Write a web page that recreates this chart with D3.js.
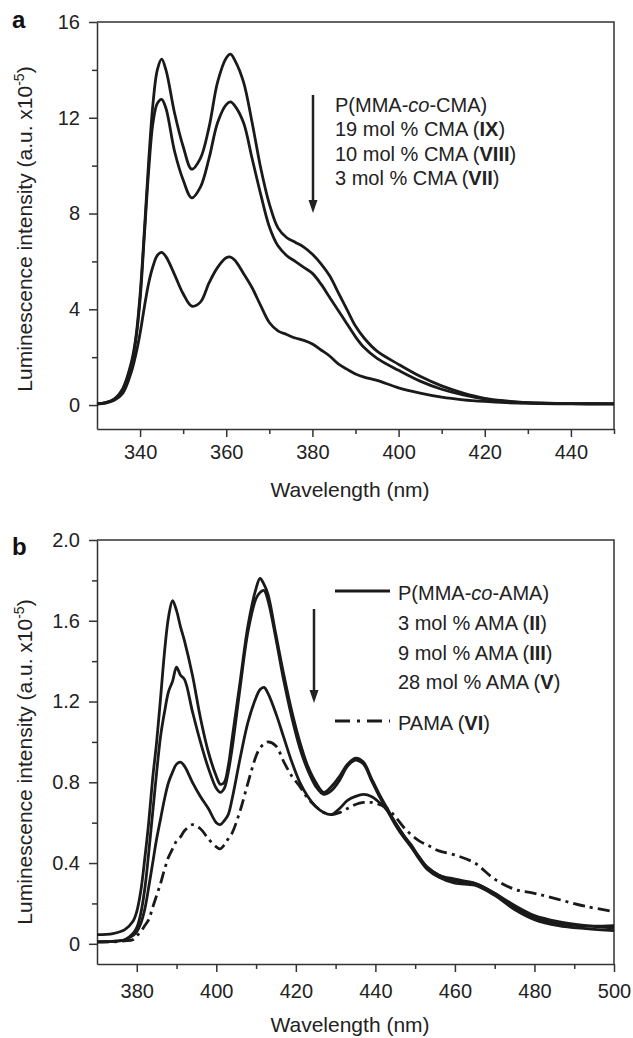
<!DOCTYPE html>
<html>
<head>
<meta charset="utf-8">
<script src="https://cdn.jsdelivr.net/npm/d3@7"></script>
<style>
  body { margin: 0; background: #fff; }
  svg { font-family: "Liberation Sans", Arial, sans-serif; }
  .axis path, .axis line { stroke: #333; stroke-width: 1.5; }
  .axis text { fill: #222; font-size: 20px; }
</style>
</head>
<body>
<div id="chart"></div>
<script>
// panel a - P(MMA-co-CMA)
var wlA = [330, 332, 334, 336, 338, 339, 340, 341, 342, 343, 344, 345, 346, 348, 350, 352, 354, 356, 358, 360, 361, 362, 364, 366, 368, 370, 372, 374, 376, 378, 380, 382, 384, 386, 388, 390, 392, 395, 400, 405, 410, 415, 420, 425, 430, 440, 450];
var cmaIX = [0.05, 0.1, 0.25, 0.7, 1.8, 2.8, 4.6, 7.3, 10.2, 12.6, 14.0, 14.45, 14.0, 12.2, 10.8, 9.85, 10.3, 11.6, 13.5, 14.5, 14.66, 14.4, 13.5, 11.8, 9.9, 8.4, 7.4, 7.0, 6.8, 6.6, 6.3, 5.9, 5.4, 4.7, 4.0, 3.3, 2.8, 2.25, 1.7, 1.2, 0.8, 0.5, 0.28, 0.17, 0.1, 0.06, 0.05];
var cmaVIII = [0.05, 0.1, 0.25, 0.65, 1.7, 2.7, 4.4, 7.1, 9.8, 11.8, 12.6, 12.77, 12.4, 10.6, 9.4, 8.65, 9.1, 10.3, 11.8, 12.55, 12.66, 12.5, 11.8, 10.3, 8.8, 7.45, 6.65, 6.25, 6.0, 5.75, 5.5, 5.05, 4.5, 3.95, 3.4, 2.85, 2.4, 1.95, 1.45, 1.0, 0.66, 0.42, 0.25, 0.15, 0.1, 0.06, 0.05];
var cmaVII = [0.04, 0.08, 0.2, 0.5, 1.4, 2.1, 3.0, 4.1, 5.1, 5.8, 6.25, 6.38, 6.2, 5.45, 4.65, 4.13, 4.3, 5.1, 5.75, 6.15, 6.18, 6.05, 5.5, 4.9, 4.15, 3.45, 3.1, 2.95, 2.8, 2.7, 2.55, 2.3, 2.05, 1.72, 1.5, 1.3, 1.17, 1.03, 0.72, 0.5, 0.33, 0.22, 0.15, 0.1, 0.07, 0.05, 0.05];

// panel b - P(MMA-co-AMA) and PAMA
var wlB = [370, 374, 377, 379, 380, 381, 382, 383, 384, 385, 386, 387, 388, 389, 390, 391, 392, 394, 396, 398, 400, 401, 402, 403, 404, 406, 408, 410, 411, 412, 413, 415, 417, 419, 421, 423, 425, 427, 429, 431, 433, 435, 437, 439, 441, 443, 445, 447, 449, 451, 453, 456, 460, 465, 470, 475, 480, 486, 493, 500];
var amaII = [0.045, 0.05, 0.07, 0.11, 0.16, 0.26, 0.42, 0.6, 0.82, 1.0, 1.22, 1.45, 1.62, 1.70, 1.65, 1.57, 1.5, 1.33, 1.12, 0.95, 0.83, 0.79, 0.8, 0.88, 1.02, 1.3, 1.58, 1.76, 1.81, 1.78, 1.73, 1.53, 1.33, 1.15, 1.0, 0.88, 0.8, 0.75, 0.78, 0.83, 0.89, 0.92, 0.9, 0.82, 0.74, 0.67, 0.6, 0.54, 0.49, 0.43, 0.38, 0.34, 0.31, 0.3, 0.25, 0.18, 0.13, 0.1, 0.088, 0.09];
var amaIII = [0.01, 0.012, 0.02, 0.05, 0.08, 0.15, 0.27, 0.45, 0.65, 0.85, 1.03, 1.15, 1.25, 1.3, 1.37, 1.33, 1.31, 1.15, 1.0, 0.87, 0.77, 0.75, 0.77, 0.85, 0.97, 1.27, 1.55, 1.71, 1.74, 1.75, 1.7, 1.51, 1.3, 1.12, 0.97, 0.86, 0.78, 0.74, 0.76, 0.81, 0.88, 0.91, 0.89, 0.81, 0.73, 0.66, 0.59, 0.53, 0.48, 0.42, 0.37, 0.33, 0.3, 0.29, 0.24, 0.17, 0.12, 0.09, 0.075, 0.065];
var amaV = [0.01, 0.012, 0.02, 0.04, 0.06, 0.1, 0.17, 0.28, 0.4, 0.52, 0.62, 0.72, 0.8, 0.85, 0.89, 0.9, 0.88, 0.8, 0.73, 0.67, 0.6, 0.59, 0.61, 0.64, 0.72, 0.92, 1.1, 1.22, 1.26, 1.27, 1.24, 1.14, 1.02, 0.9, 0.8, 0.73, 0.68, 0.65, 0.64, 0.67, 0.71, 0.73, 0.74, 0.73, 0.7, 0.66, 0.6, 0.54, 0.48, 0.43, 0.38, 0.34, 0.32, 0.3, 0.25, 0.19, 0.14, 0.11, 0.09, 0.078];
var pama = [0.01, 0.01, 0.015, 0.02, 0.04, 0.06, 0.09, 0.12, 0.18, 0.24, 0.3, 0.37, 0.43, 0.47, 0.51, 0.53, 0.56, 0.59, 0.57, 0.52, 0.48, 0.47, 0.49, 0.52, 0.55, 0.66, 0.8, 0.93, 0.97, 0.99, 1.0, 0.98, 0.9, 0.83, 0.78, 0.72, 0.68, 0.65, 0.64, 0.65, 0.67, 0.69, 0.7, 0.7, 0.69, 0.67, 0.63, 0.58, 0.54, 0.51, 0.49, 0.46, 0.44, 0.4, 0.32, 0.27, 0.25, 0.22, 0.185, 0.16];

var yTicksA = [0, 4, 8, 12, 16];
var yTicksB = [0, 0.4, 0.8, 1.2, 1.6, 2.0];

var width = 633, height = 1038;
var left = 97, right = 614;

var svg = d3.select('#chart').append('svg')
  .attr('width', width)
  .attr('height', height);

function drawPanel(opt) {
  var x = d3.scaleLinear().domain(opt.xDomain).range([left, right]);
  var y = d3.scaleLinear().domain(opt.yDomain).range([opt.bottom, opt.top]);

  // minor ticks first so majors draw over
  svg.append('g').attr('class', 'axis')
    .attr('transform', 'translate(0,' + opt.bottom + ')')
    .call(d3.axisBottom(x).tickValues(opt.xMinor).tickSize(5).tickFormat(''))
    .select('.domain').remove();
  svg.append('g').attr('class', 'axis')
    .attr('transform', 'translate(' + left + ',0)')
    .call(d3.axisLeft(y).tickValues(opt.yMinor).tickSize(5).tickFormat(''))
    .select('.domain').remove();

  svg.append('g').attr('class', 'axis')
    .attr('transform', 'translate(0,' + opt.bottom + ')')
    .call(d3.axisBottom(x).tickValues(opt.xTicks).tickSize(8).tickSizeOuter(0).tickPadding(opt.xPad));
  svg.append('g').attr('class', 'axis')
    .attr('transform', 'translate(' + left + ',0)')
    .call(d3.axisLeft(y).tickValues(opt.yTicks).tickSize(8).tickSizeOuter(0).tickPadding(9)
      .tickFormat(opt.yFormat));

  // top and right frame
  svg.append('path')
    .attr('d', 'M' + left + ',' + opt.top + 'H' + right + 'V' + opt.bottom)
    .attr('fill', 'none')
    .attr('stroke', '#333')
    .attr('stroke-width', 1.5);

  var line = d3.line()
    .x(function (d) { return x(d[0]); })
    .y(function (d) { return y(d[1]); })
    .curve(d3.curveCatmullRom.alpha(0.5));

  opt.series.forEach(function (s) {
    svg.append('path')
      .datum(opt.wl.map(function (w, i) { return [w, s.values[i]]; }))
      .attr('fill', 'none')
      .attr('stroke', '#1a1a1a')
      .attr('stroke-width', 2.8)
      .attr('stroke-linejoin', 'round')
      .attr('stroke-dasharray', s.dash || null)
      .attr('d', line);
  });

  // axis titles
  var yl = svg.append('text')
    .attr('transform', 'translate(32,' + opt.yLabelY + ') rotate(-90)')
    .attr('text-anchor', 'middle')
    .style('font-size', '21px')
    .attr('fill', '#222');
  yl.append('tspan').text('Luminescence intensity (a.u. x10');
  yl.append('tspan').attr('dy', -8).style('font-size', '14px').text('-5');
  yl.append('tspan').attr('dy', 8).text(')');

  svg.append('text')
    .attr('x', 350)
    .attr('y', opt.xLabelY)
    .attr('text-anchor', 'middle')
    .style('font-size', '21px')
    .attr('fill', '#222')
    .text('Wavelength (nm)');

  svg.append('text')
    .attr('x', 12)
    .attr('y', opt.letterY)
    .style('font-size', '24px')
    .style('font-weight', 'bold')
    .attr('fill', '#111')
    .text(opt.letter);
}

function arrow(xp, y1, y2) {
  svg.append('line')
    .attr('x1', xp).attr('x2', xp)
    .attr('y1', y1).attr('y2', y2 - 10)
    .attr('stroke', '#222')
    .attr('stroke-width', 2.5);
  svg.append('path')
    .attr('d', 'M' + (xp - 4.5) + ',' + (y2 - 13) + 'L' + (xp + 4.5) + ',' + (y2 - 13) + 'L' + xp + ',' + y2 + 'Z')
    .attr('fill', '#222');
}

function legendLine(yp, parts) {
  var t = svg.append('text')
    .attr('x', parts.x)
    .attr('y', yp)
    .style('font-size', '20px')
    .attr('fill', '#222');
  parts.items.forEach(function (p) {
    t.append('tspan')
      .style('font-style', p.italic ? 'italic' : null)
      .style('font-weight', p.bold ? 'bold' : null)
      .text(p.t);
  });
}

drawPanel({
  letter: 'a', letterY: 28,
  xDomain: [330, 450], yDomain: [-1, 16],
  top: 22, bottom: 429,
  xTicks: [340, 360, 380, 400, 420, 440], xMinor: [350, 370, 390, 410, 430, 450],
  yTicks: yTicksA, yMinor: [2, 6, 10, 14],
  yFormat: d3.format('d'), xPad: 8,
  yLabelY: 229, xLabelY: 497,
  wl: wlA,
  series: [{ values: cmaIX }, { values: cmaVIII }, { values: cmaVII }]
});

drawPanel({
  letter: 'b', letterY: 555,
  xDomain: [370, 500], yDomain: [-0.1, 2.0],
  top: 540, bottom: 964,
  xTicks: [380, 400, 420, 440, 460, 480, 500], xMinor: [390, 410, 430, 450, 470, 490],
  yTicks: yTicksB, yMinor: [0.2, 0.6, 1.0, 1.4, 1.8],
  yFormat: function (d) { return d === 0 ? '0' : d.toFixed(1); }, xPad: 12,
  yLabelY: 762, xLabelY: 1032,
  wl: wlB,
  series: [{ values: amaII }, { values: amaIII }, { values: amaV }, { values: pama, dash: '12,5,3,5' }]
});

// legend a
arrow(313, 95, 213);
legendLine(112, { x: 335, items: [{ t: 'P(MMA-' }, { t: 'co', italic: true }, { t: '-CMA)' }] });
legendLine(136, { x: 335, items: [{ t: '19 mol % CMA (' }, { t: 'IX', bold: true }, { t: ')' }] });
legendLine(161, { x: 335, items: [{ t: '10 mol % CMA (' }, { t: 'VIII', bold: true }, { t: ')' }] });
legendLine(185, { x: 335, items: [{ t: '3 mol % CMA (' }, { t: 'VII', bold: true }, { t: ')' }] });

// legend b
svg.append('line').attr('x1', 335).attr('x2', 390).attr('y1', 591).attr('y2', 591)
  .attr('stroke', '#1a1a1a').attr('stroke-width', 3);
svg.append('line').attr('x1', 335).attr('x2', 390).attr('y1', 721).attr('y2', 721)
  .attr('stroke', '#1a1a1a').attr('stroke-width', 3).attr('stroke-dasharray', '15,7,3,7');
arrow(314, 609, 703);
legendLine(600, { x: 398, items: [{ t: 'P(MMA-' }, { t: 'co', italic: true }, { t: '-AMA)' }] });
legendLine(630, { x: 398, items: [{ t: '3 mol % AMA (' }, { t: 'II', bold: true }, { t: ')' }] });
legendLine(660, { x: 398, items: [{ t: '9 mol % AMA (' }, { t: 'III', bold: true }, { t: ')' }] });
legendLine(689, { x: 398, items: [{ t: '28 mol % AMA (' }, { t: 'V', bold: true }, { t: ')' }] });
legendLine(730, { x: 398, items: [{ t: 'PAMA (' }, { t: 'VI', bold: true }, { t: ')' }] });
</script>
</body>
</html>
